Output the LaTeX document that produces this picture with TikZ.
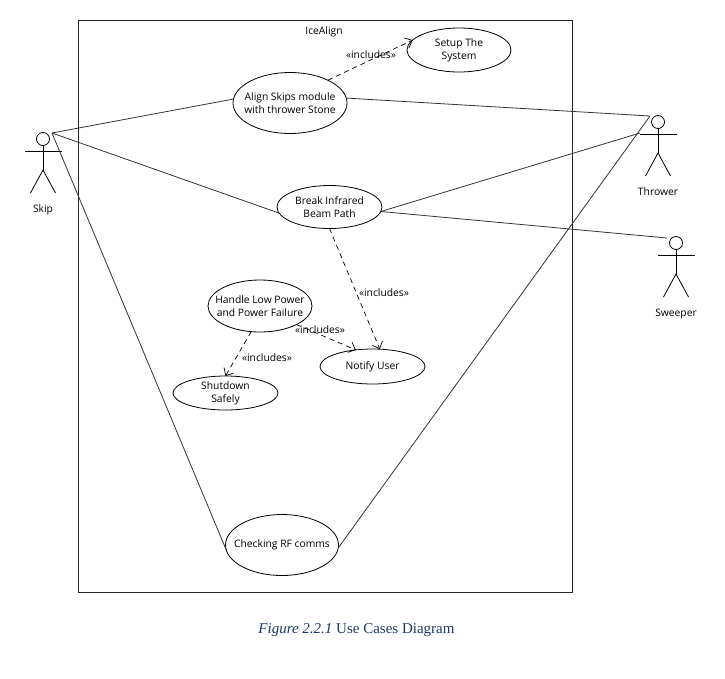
\documentclass[tikz,border=0pt]{standalone}
\usepackage{fontspec}
\setmainfont{Open Sans}
\newfontfamily\captionfont{Liberation Serif}
\usetikzlibrary{shapes.geometric,arrows.meta}
\definecolor{captionblue}{HTML}{1F3864}
\tikzset{
	usecase/.style={ellipse, draw, line width=0.8pt, inner xsep=-25pt, inner ysep=-12pt, outer sep=0pt, align=center},
	actorhead/.style={circle, draw, line width=0.8pt, minimum size=13pt, inner sep=0pt, outer sep=0pt},
	actorname/.style={inner sep=0pt},
	assoc/.style={line width=0.8pt, black!80},
	incl/.style={line width=0.7pt, dash pattern=on 5pt off 4pt, -{Straight Barb[length=6pt,width=11pt]}},
	stereo/.style={inner sep=0pt}
}
\begin{document}
\begin{tikzpicture}
	[
	x=1pt, y=-1pt, font=\fontsize{10.3}{12.7}\selectfont
	]
	\useasboundingbox (0,0) rectangle (725,678);

	%System
	\node [draw, line width=0.8pt, black!85, minimum width=494pt, minimum height=572pt, inner sep=0pt] (system) at (325,306) {};
	\node [inner sep=0pt] (systemname) at (324,32) {IceAlign};

	%Actors
	\foreach \actor/\x/\y/\ly/\txt in {skip/43/139/71/Skip, thrower/658/122/70/Thrower, sweeper/676/243/71/Sweeper}
	{
		\node [actorhead] (\actor) at (\x,\y) {};
		\draw [line width=0.8pt] (\actor.south) --++(0,24.5) coordinate (\actor hip);
		\draw [line width=0.8pt] ([xshift=-18pt,yshift=-5.5pt]\actor.south) --++(37,0);
		\draw [line width=0.8pt] ([xshift=-12.5pt,yshift=-23pt]\actor hip) -- (\actor hip) -- ([xshift=12.5pt,yshift=-23pt]\actor hip);
		\node [actorname] (\actor name) at (\x,\y+\ly) {\txt};
	}
	\coordinate (skipend) at (52,133);
	\coordinate (throwertop) at (650,116);
	\coordinate (throwerarm) at (640,133);
	\coordinate (sweeperend) at (667,238);

	%Use cases
	\node [usecase, minimum width=104pt, minimum height=44pt] (setup) at (459,50) {Setup The\\System};
	\node [usecase, minimum width=114pt, minimum height=61pt] (align) at (290,103) {Align Skips module\\with thrower Stone};
	\node [usecase, minimum width=105pt, minimum height=43pt] (break) at (329.5,207) {Break Infrared\\Beam Path};
	\node [usecase, minimum width=104pt, minimum height=52pt] (handle) at (260,306) {Handle Low Power\\and Power Failure};
	\node [usecase, minimum width=105pt, minimum height=35pt] (notify) at (372.5,366.5) {Notify User};
	\node [usecase, minimum width=105pt, minimum height=34pt] (shutdown) at (225.5,393) {Shutdown\\Safely};
	\node [usecase, minimum width=113pt, minimum height=61pt] (checking) at (282,545) {Checking RF comms};

	%Associations
	\draw [assoc] (skipend) -- (align.176);
	\draw [assoc] (skipend) -- (break.187);
	\draw [assoc] (skipend) -- (checking.185);
	\draw [assoc] (align.5) -- (throwertop);
	\draw [assoc] (break.-5) -- (throwerarm);
	\draw [assoc] (checking.-3) -- (throwertop);
	\draw [assoc] (break.-5) -- (sweeperend);

	%Includes
	\draw [incl] (align.31) -- (setup.168);
	\node [stereo] (inclsetup) at (371,55) {«includes»};
	\draw [incl] (break.270) -- (notify.67);
	\node [stereo] (inclbreak) at (384,292.5) {«includes»};
	\draw [incl] (handle.-27) -- (notify.135);
	\node [stereo] (inclhandle) at (320,329.5) {«includes»};
	\draw [incl] (handle.251) -- (shutdown.90);
	\node [stereo] (inclshutdown) at (267,357.5) {«includes»};

	%Caption
	\node [inner sep=0pt, text=captionblue, font=\captionfont\fontsize{15}{17}\selectfont] (caption) at (356.5,630) {\textit{Figure 2.2.1} Use Cases Diagram};
\end{tikzpicture}
\end{document}
